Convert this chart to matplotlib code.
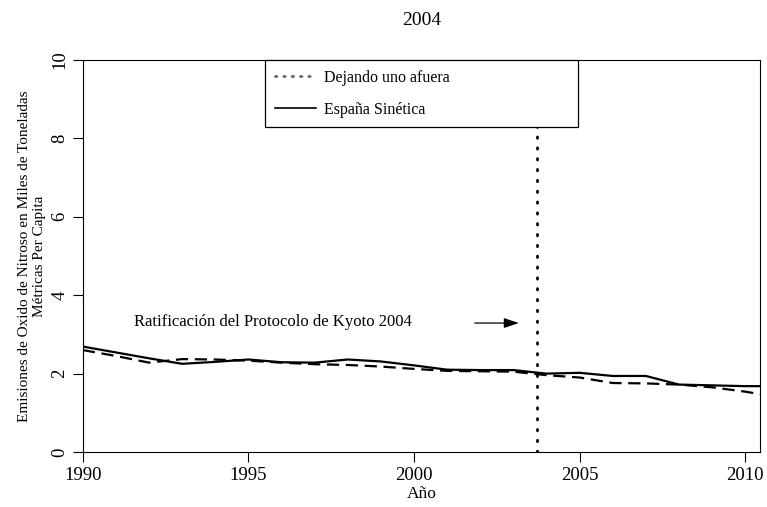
import matplotlib
matplotlib.use("Agg")
import matplotlib.pyplot as plt
from matplotlib.lines import Line2D

plt.rcParams['font.family'] = ['Liberation Serif', 'DejaVu Serif']

years = list(range(1990, 2012))
espana_sintetica = [2.69, 2.54, 2.39, 2.25, 2.30, 2.36, 2.29, 2.28, 2.36, 2.31, 2.21,
                    2.10, 2.09, 2.09, 2.00, 2.02, 1.94, 1.94, 1.72, 1.70, 1.68, 1.68]
dejando_fuera = [2.60, 2.45, 2.28, 2.37, 2.36, 2.33, 2.28, 2.24, 2.22, 2.18, 2.12,
                 2.07, 2.06, 2.05, 1.96, 1.90, 1.76, 1.75, 1.72, 1.65, 1.54, 1.40]
kyoto_year = 2003.72
xticks = [1990, 1995, 2000, 2005, 2010]
yticks = [0, 2, 4, 6, 8, 10]

fig = plt.figure(figsize=(7.67, 5.07), dpi=100)
ax = fig.add_axes([0.108, 0.1085, 0.883, 0.773])

ax.plot(years, dejando_fuera, color='black', lw=1.6, ls=(0, (5.5, 3)))
ax.plot(years, espana_sintetica, color='black', lw=1.6)
ax.axvline(kyoto_year, color='black', lw=2, ls=(0, (0.5, 3.4)), dash_capstyle='round')

ax.annotate('', xy=(2003.25, 3.29), xytext=(2001.75, 3.29),
            arrowprops=dict(arrowstyle='-|>,head_length=0.9,head_width=0.3', color='black', lw=0.9))
ax.text(1991.55, 3.32, 'Ratificación del Protocolo de Kyoto 2004', fontsize=12, va='center')

ax.set_xlim(1990, 2010.45)
ax.set_ylim(0, 10)
ax.set_xticks(xticks)
ax.set_yticks(yticks)
ax.tick_params(direction='out', length=7, labelsize=13.5, width=0.8)
for lab in ax.get_yticklabels():
    lab.set_rotation(90)
    lab.set_va('center')
for s in ax.spines.values():
    s.set_linewidth(0.8)

ax.set_xlabel('Año', fontsize=12.5, labelpad=2)
ax.set_ylabel('Emisiones de Oxido de Nitroso en Miles de Toneladas\nMétricas Per Capita',
              fontsize=11, labelpad=4, linespacing=1.15)
ax.set_title('2004', fontsize=14, pad=25)

handles = [Line2D([], [], color='#666666', lw=2, ls=(0, (0.5, 2.5)), dash_capstyle='round'),
           Line2D([], [], color='black', lw=1.2)]
leg = ax.legend(handles, ['Dejando uno afuera', 'España Sinética'],
                loc='upper center', bbox_to_anchor=(0.269, 0.827, 0.462, 0.173), mode='expand',
                fancybox=False, edgecolor='black', framealpha=1, fontsize=11.5,
                handlelength=2.6, handletextpad=0.5, borderaxespad=0, borderpad=0.6,
                labelspacing=1.0)
leg.get_frame().set_linewidth(0.9)

fig.savefig('out.png', dpi=100)
